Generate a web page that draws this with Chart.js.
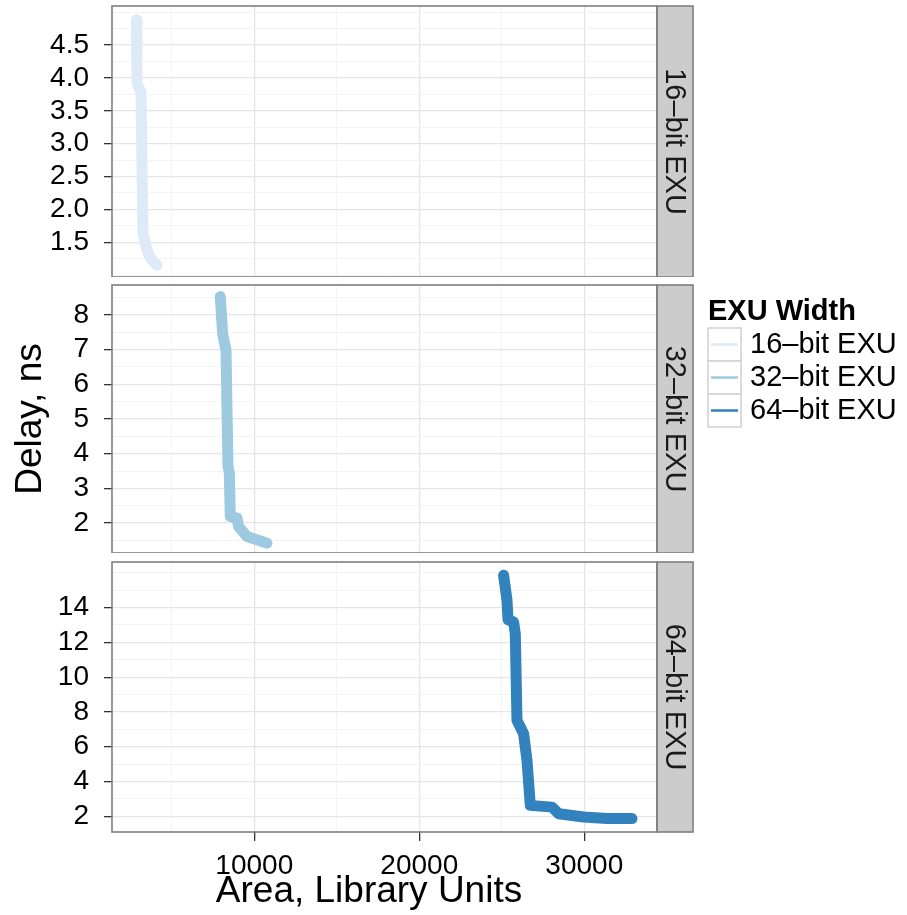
<!DOCTYPE html>
<html>
<head>
<meta charset="utf-8">
<title>Delay vs. area by EXU width</title>
<script src="https://cdn.jsdelivr.net/npm/chart.js@4.4.1/dist/chart.umd.min.js"></script>
<style>
  html, body { margin: 0; padding: 0; background: #ffffff; }
  #figure { position: relative; width: 907px; height: 915px; overflow: hidden; background: #ffffff; }
  .facet { position: absolute; left: 0; width: 907px; }
  .facet canvas { display: block; }
</style>
</head>
<body>
<div id="figure">
  <div class="facet" style="top:0px;height:277px"><canvas id="c16" width="907" height="277"></canvas></div>
  <div class="facet" style="top:280px;height:273px"><canvas id="c32" width="907" height="273"></canvas></div>
  <div class="facet" style="top:556px;height:359px"><canvas id="c64" width="907" height="359"></canvas></div>
</div>
<script>
// ---- series ----
const seriesLabels = ['16\u2013bit EXU', '32\u2013bit EXU', '64\u2013bit EXU'];
const seriesColors = ['#DEEBF7', '#9ECAE1', '#3182BD'];

// delay (ns) against area (library units), one trade-off curve per EXU width
const area16  = [2848, 2891, 3133, 3255, 3497, 3697, 4103];
const delay16 = [4.88, 3.92, 3.78, 1.64, 1.38, 1.26, 1.15];

const area32  = [7939, 8079, 8200, 8285, 8406, 8485, 8545, 8952, 9048, 9558, 10770];
const delay32 = [8.53, 7.47, 7.18, 6.99, 3.63, 3.45, 2.19, 2.14, 1.90, 1.61, 1.42];

const area64  = [25109, 25315, 25376, 25715, 25818, 25921, 26321, 26527, 26727, 28042, 28442, 29958, 31376, 32891];
const delay64 = [15.86, 14.42, 13.31, 13.17, 12.50, 7.52, 6.75, 5.22, 2.63, 2.53, 2.15, 1.96, 1.87, 1.87];

// ---- tick labels ----
const areaTicks      = [10000, 20000, 30000];
const areaMinorTicks = [5000, 15000, 25000];

const delayTicks16      = [1.5, 2.0, 2.5, 3.0, 3.5, 4.0, 4.5];
const delayMinorTicks16 = [1.0, 1.25, 1.75, 2.25, 2.75, 3.25, 3.75, 4.25, 4.75, 5.0];
const delayTicks32      = [2, 3, 4, 5, 6, 7, 8];
const delayMinorTicks32 = [1.5, 2.5, 3.5, 4.5, 5.5, 6.5, 7.5, 8.5];
const delayTicks64      = [2, 4, 6, 8, 10, 12, 14];
const delayMinorTicks64 = [3, 5, 7, 9, 11, 13, 15, 16];

// ---- styling ----
const FONT = '"Liberation Sans", Arial, Helvetica, sans-serif';
const GRID_MAJOR = '#E5E5E5';
const GRID_MINOR = '#F4F4F4';
const FRAME = '#7F7F7F';
const STRIP_FILL = '#CCCCCC';

function fixedTicks(major, minor) {
  const all = major.concat(minor).sort((a, b) => a - b);
  return scale => { scale.ticks = all.map(v => ({ value: v })); };
}
function isMajor(list, ctx) {
  return !!(ctx.tick && list.indexOf(ctx.tick.value) !== -1);
}
function noPadding(s) {
  s.paddingTop = 0; s.paddingBottom = 0; s.paddingLeft = 0; s.paddingRight = 0;
}

// panel frame, facet strip, and optional legend / x-axis title
const facetPlugin = {
  id: 'facet',
  afterDraw(chart, args, opts) {
    const ctx = chart.ctx;
    const a = chart.chartArea;
    ctx.save();
    // facet strip on the right edge of the panel
    ctx.fillStyle = STRIP_FILL;
    ctx.fillRect(a.right, a.top, 36, a.bottom - a.top);
    ctx.strokeStyle = FRAME;
    ctx.lineWidth = 1.6;
    ctx.strokeRect(a.right, a.top, 36, a.bottom - a.top);
    ctx.strokeRect(a.left, a.top, a.right - a.left, a.bottom - a.top);
    ctx.translate(a.right + 18, (a.top + a.bottom) / 2);
    ctx.rotate(Math.PI / 2);
    ctx.fillStyle = '#1A1A1A';
    ctx.font = '29px ' + FONT;
    ctx.textAlign = 'center';
    ctx.textBaseline = 'middle';
    ctx.fillText(opts.strip, 0, 1);
    ctx.restore();

    if (opts.legend) {
      const lx = 708, ty = 32;
      ctx.save();
      ctx.fillStyle = '#000000';
      ctx.font = 'bold 29px ' + FONT;
      ctx.textAlign = 'left';
      ctx.textBaseline = 'middle';
      ctx.fillText('EXU Width', lx, ty);
      seriesLabels.forEach((lab, i) => {
        const y0 = 48 + i * 33;
        ctx.fillStyle = '#FFFFFF';
        ctx.fillRect(lx, y0, 33, 33);
        ctx.strokeStyle = '#D0D0D0';
        ctx.lineWidth = 1.5;
        ctx.strokeRect(lx, y0, 33, 33);
        ctx.strokeStyle = seriesColors[i];
        ctx.lineWidth = 2.5;
        ctx.beginPath();
        ctx.moveTo(lx + 3, y0 + 16.5);
        ctx.lineTo(lx + 30, y0 + 16.5);
        ctx.stroke();
        ctx.fillStyle = '#000000';
        ctx.font = '29px ' + FONT;
        ctx.fillText(lab, lx + 42, y0 + 17);
      });
      ctx.restore();
    }

    if (opts.xTitle) {
      ctx.save();
      ctx.fillStyle = '#000000';
      ctx.font = '37px ' + FONT;
      ctx.textAlign = 'center';
      ctx.textBaseline = 'alphabetic';
      ctx.fillText(opts.xTitle, 369, 346);
      ctx.restore();
    }
  }
};

function panel(canvasId, p) {
  const points = p.area.map((a, i) => ({ x: a, y: p.delay[i] }));
  return new Chart(document.getElementById(canvasId), {
    type: 'scatter',
    data: {
      datasets: [{
        label: p.label,
        data: points,
        showLine: true,
        borderColor: p.color,
        backgroundColor: p.color,
        borderWidth: 11,
        pointRadius: 0,
        pointHoverRadius: 0,
        tension: 0,
        borderJoinStyle: 'round',
        borderCapStyle: 'round',
        fill: false
      }]
    },
    options: {
      responsive: false,
      animation: false,
      events: [],
      layout: { padding: { top: p.padTop, right: 250, bottom: 0, left: 0 } },
      plugins: {
        legend: { display: false },
        tooltip: { enabled: false },
        facet: { strip: p.label, legend: !!p.legend, xTitle: p.xTitle || '' }
      },
      scales: {
        x: {
          type: 'linear',
          position: 'bottom',
          min: 1376,
          max: 34406,
          afterBuildTicks: fixedTicks(areaTicks, areaMinorTicks),
          afterFit: s => { s.height = p.showX ? 83 : 0; noPadding(s); },
          border: { display: false },
          grid: {
            drawTicks: !!p.showX,
            tickLength: 9,
            color: c => isMajor(areaTicks, c) ? GRID_MAJOR : GRID_MINOR,
            lineWidth: c => isMajor(areaTicks, c) ? 1.3 : 1,
            tickColor: c => isMajor(areaTicks, c) ? '#333333' : 'rgba(0,0,0,0)',
            tickWidth: 1.3
          },
          ticks: {
            display: !!p.showX,
            autoSkip: false,
            maxRotation: 0,
            padding: 8,
            color: '#000000',
            font: { family: FONT, size: 28 },
            callback: v => areaTicks.indexOf(v) !== -1 ? String(v) : ''
          }
        },
        y: {
          type: 'linear',
          min: p.yMin,
          max: p.yMax,
          afterBuildTicks: fixedTicks(p.yTicks, p.yMinor),
          afterFit: s => { s.width = 112; noPadding(s); },
          border: { display: false },
          grid: {
            drawTicks: true,
            tickLength: 8,
            color: c => isMajor(p.yTicks, c) ? GRID_MAJOR : GRID_MINOR,
            lineWidth: c => isMajor(p.yTicks, c) ? 1.3 : 1,
            tickColor: c => isMajor(p.yTicks, c) ? '#333333' : 'rgba(0,0,0,0)',
            tickWidth: 1.3
          },
          ticks: {
            autoSkip: false,
            padding: 15,
            color: '#000000',
            font: { family: FONT, size: 28 },
            callback: v => p.yTicks.indexOf(v) !== -1 ? v.toFixed(p.decimals) : ''
          },
          title: {
            display: !!p.yTitle,
            text: p.yTitle || '',
            color: '#000000',
            font: { family: FONT, size: 37, lineHeight: 1 },
            padding: { top: 12, bottom: 0 }
          }
        }
      }
    },
    plugins: [facetPlugin]
  });
}

panel('c16', {
  label: seriesLabels[0], color: seriesColors[0], area: area16, delay: delay16,
  yMin: 0.972, yMax: 5.094, yTicks: delayTicks16, yMinor: delayMinorTicks16, decimals: 1,
  padTop: 6
});
panel('c32', {
  label: seriesLabels[1], color: seriesColors[1], area: area32, delay: delay32,
  yMin: 1.135, yMax: 8.865, yTicks: delayTicks32, yMinor: delayMinorTicks32, decimals: 0,
  padTop: 5, yTitle: 'Delay, ns', legend: true
});
panel('c64', {
  label: seriesLabels[2], color: seriesColors[2], area: area64, delay: delay64,
  yMin: 1.10, yMax: 16.62, yTicks: delayTicks64, yMinor: delayMinorTicks64, decimals: 0,
  padTop: 6, showX: true, xTitle: 'Area, Library Units'
});
</script>
</body>
</html>
